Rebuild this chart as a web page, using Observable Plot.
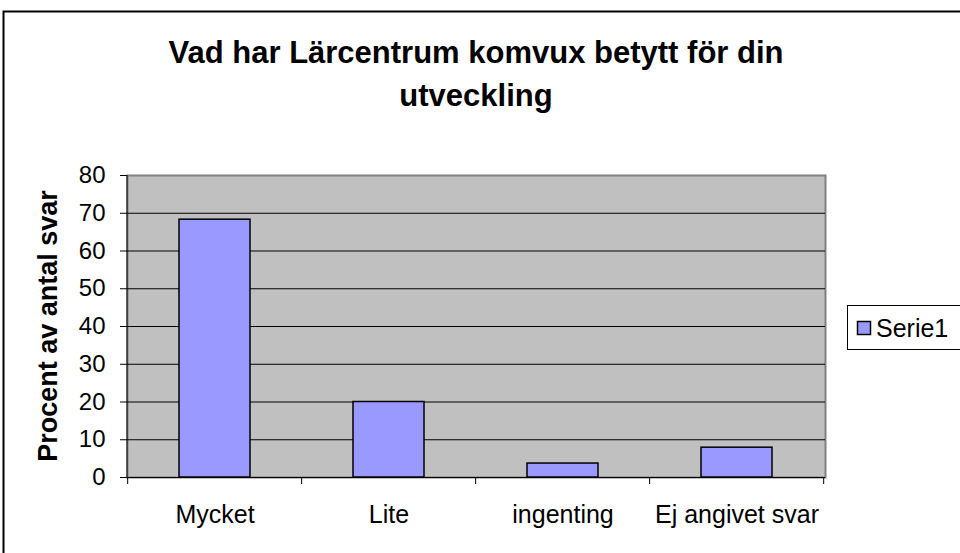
<!DOCTYPE html>
<html>
<head>
<meta charset="utf-8">
<script src="https://cdn.jsdelivr.net/npm/d3@7"></script>
<script src="https://cdn.jsdelivr.net/npm/@observablehq/plot@0.6"></script>
<style>
  html, body { margin: 0; padding: 0; background: #fff; }
  body { width: 960px; height: 553px; overflow: hidden; }
  #chart svg { display: block; }
</style>
</head>
<body>
<div id="chart"></div>
<script>
const categories = ["Mycket", "Lite", "ingenting", "Ej angivet svar"];
const values = [68.3, 20.0, 3.7, 7.9];
const yTicks = [0, 10, 20, 30, 40, 50, 60, 70, 80];
const titleLines = ["Vad har Lärcentrum komvux betytt för din", "utveckling"];
const yLabel = "Procent av antal svar";
const seriesName = "Serie1";

const data = categories.map((c, i) => ({cat: c, value: values[i]}));
const FONT = "'Liberation Sans', Arial, sans-serif";
const PI = 0.59, PO = 0.295;

const boundaryTicks = (index, scales, vals, dims) => {
  const g = d3.create("svg:g");
  const x = scales.x;
  const step = x(categories[1]) - x(categories[0]);
  const y0 = dims.height - dims.marginBottom;
  const bounds = categories.map(c => x(c) - PO * step);
  bounds.push(x(categories[categories.length - 1]) + step - PO * step);
  for (const b of bounds) {
    g.append("line").attr("x1", b).attr("x2", b).attr("y1", y0).attr("y2", y0 + 7)
      .attr("stroke", "black").attr("stroke-width", 1);
  }
  return g.node();
};

const plot = Plot.plot({
  width: 960,
  height: 553,
  marginTop: 175,
  marginBottom: 76,
  marginLeft: 127,
  marginRight: 135,
  style: {fontFamily: FONT, background: "white", color: "black"},
  x: {domain: categories, paddingInner: PI, paddingOuter: PO, label: null},
  y: {domain: [0, 80], label: null},
  marks: [
    Plot.frame({fill: "#c0c0c0", stroke: "#808080", strokeWidth: 2}),
    Plot.gridY(yTicks.filter(d => d > 0 && d < 80), {stroke: "black", strokeOpacity: 1, strokeWidth: 1}),
    Plot.barY(data, {x: "cat", y: "value", fill: "#9999ff", stroke: "black", strokeWidth: 1.5}),
    Plot.ruleY([0], {stroke: "black", strokeWidth: 1}),
    Plot.axisY({ticks: yTicks, tickSize: 7, tickPadding: 15, fontSize: 24, label: null}),
    Plot.axisX({tickSize: 0, tickPadding: 28, fontSize: 25, label: null}),
    boundaryTicks
  ]
});

document.getElementById("chart").appendChild(plot);
const svg = d3.select(plot);

// y axis line
svg.append("line").attr("x1", 127).attr("x2", 127).attr("y1", 175).attr("y2", 477)
  .attr("stroke", "black").attr("stroke-width", 1);

// outer border
svg.insert("rect", ":first-child").attr("x", 3.5).attr("y", 11.5).attr("width", 1000).attr("height", 600)
  .attr("fill", "white").attr("stroke", "black").attr("stroke-width", 2);

// title
svg.append("g").selectAll("text").data(titleLines).join("text")
  .attr("x", 476).attr("y", (d, i) => 63 + i * 43)
  .attr("text-anchor", "middle").attr("font-size", 31).attr("font-weight", "bold")
  .attr("font-family", FONT).attr("fill", "black").text(d => d);

// y label
svg.append("text").attr("transform", "translate(57,326) rotate(-90)")
  .attr("text-anchor", "middle").attr("font-size", 27).attr("font-weight", "bold")
  .attr("font-family", FONT).attr("fill", "black").text(yLabel);

// legend
const lg = svg.append("g");
lg.append("rect").attr("x", 847.5).attr("y", 305.5).attr("width", 200).attr("height", 44)
  .attr("fill", "white").attr("stroke", "black").attr("stroke-width", 1);
lg.append("rect").attr("x", 857.5).attr("y", 321.5).attr("width", 13).attr("height", 13)
  .attr("fill", "#9999ff").attr("stroke", "black").attr("stroke-width", 1.5);
lg.append("text").attr("x", 876).attr("y", 337).attr("text-anchor", "start").attr("font-size", 25)
  .attr("font-family", FONT).attr("fill", "black").text(seriesName);
</script>
</body>
</html>
